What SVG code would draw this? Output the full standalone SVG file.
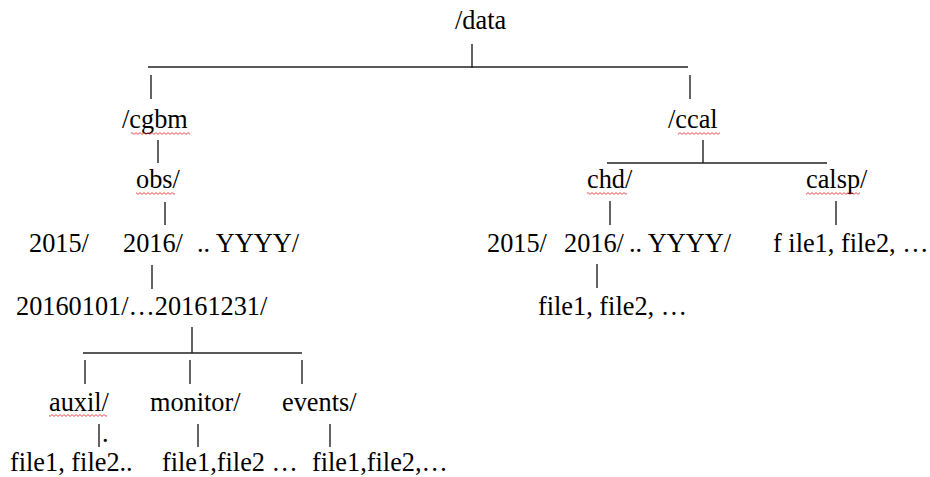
<svg xmlns="http://www.w3.org/2000/svg" width="930" height="477" viewBox="0 0 930 477">
<style>
text{font-family:"Liberation Serif","Times New Roman",serif;font-size:26.3px;fill:#000}
.c line{stroke:#222;stroke-width:1.4}
.sq{fill:url(#squig)}
</style>
<defs>
<pattern id="squig" x="0" y="0" width="4" height="3" patternUnits="userSpaceOnUse">
<path d="M0,0.6 L2,2.4 L4,0.6" fill="none" stroke="#e02020" stroke-width="0.8"/>
</pattern>
</defs>
<rect width="930" height="477" fill="#fff"/>
<g id="connectors" class="c">
<line x1="472" y1="44" x2="472" y2="68"/>
<line x1="148" y1="67" x2="688" y2="67"/>
<line x1="151" y1="75" x2="151" y2="99"/>
<line x1="690" y1="75" x2="690" y2="99"/>
<line x1="158" y1="140" x2="158" y2="163"/>
<line x1="165" y1="202" x2="165" y2="225"/>
<line x1="152" y1="265" x2="152" y2="289"/>
<line x1="192" y1="327" x2="192" y2="353"/>
<line x1="83" y1="353" x2="302" y2="353"/>
<line x1="85" y1="360" x2="85" y2="384"/>
<line x1="190" y1="360" x2="190" y2="384"/>
<line x1="302" y1="360" x2="302" y2="384"/>
<line x1="99" y1="424" x2="99" y2="447"/>
<line x1="198" y1="424" x2="198" y2="447"/>
<line x1="330" y1="424" x2="330" y2="447"/>
<line x1="703" y1="140" x2="703" y2="163"/>
<line x1="607" y1="163" x2="827" y2="163"/>
<line x1="610" y1="201" x2="610" y2="225"/>
<line x1="836" y1="201" x2="836" y2="225"/>
<line x1="597" y1="264" x2="597" y2="288"/>
</g>
<g id="n-data"><text x="455" y="29">/data</text></g>
<g id="n-cgbm"><text x="122" y="128">/cgbm</text><rect class="sq" x="131" y="132" width="59" height="3"/></g>
<g id="n-ccal"><text x="668" y="128">/ccal</text><rect class="sq" x="678" y="132" width="42" height="3"/></g>
<g id="n-obs"><text x="136" y="188">obs/</text><rect class="sq" x="136" y="192" width="39" height="3"/></g>
<g id="n-years-left">
<text x="29" y="252">2015/</text>
<text x="123" y="252">2016/</text>
<text x="197" y="252">.. YYYY/</text>
</g>
<g id="n-days"><text x="16" y="315">20160101/…20161231/</text></g>
<g id="n-auxil"><text x="49" y="411">auxil/</text><rect class="sq" x="49" y="414" width="58" height="3"/></g>
<g id="n-monitor"><text x="150" y="411">monitor/</text></g>
<g id="n-events"><text x="282" y="411">events/</text></g>
<g id="n-auxil-dot"><text x="102" y="442">.</text></g>
<g id="n-auxil-files"><text x="10" y="471">file1, file2..</text></g>
<g id="n-monitor-files"><text x="162" y="471">file1,file2 …</text></g>
<g id="n-events-files"><text x="312" y="471">file1,file2,…</text></g>
<g id="n-chd"><text x="587" y="188">chd/</text><rect class="sq" x="587" y="192" width="40" height="3"/></g>
<g id="n-calsp"><text x="806" y="188">calsp/</text><rect class="sq" x="806" y="192" width="54" height="3"/></g>
<g id="n-years-right">
<text x="487" y="252">2015/</text>
<text x="564" y="252">2016/</text>
<text x="629" y="252">.. YYYY/</text>
</g>
<g id="n-calsp-files"><text x="773" y="252">f ile1, file2, …</text></g>
<g id="n-chd-files"><text x="538" y="315">file1, file2, …</text></g>
</svg>
